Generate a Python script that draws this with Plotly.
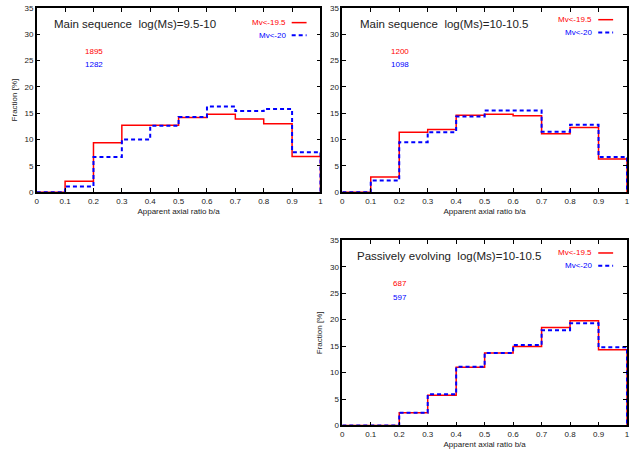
import plotly.graph_objects as go

W, H = 631, 455

# Bin edges for the apparent axial ratio b/a
edges = [0.0, 0.1, 0.2, 0.3, 0.4, 0.5, 0.6, 0.7, 0.8, 0.9, 1.0]

# Fraction [%] per bin, Mv<-19.5 (red) and Mv<-20 (blue)
ms1_red = [0.0, 2.1, 9.4, 12.7, 12.7, 14.2, 14.8, 13.9, 13.0, 6.8]
ms1_blue = [0.0, 1.1, 6.7, 10.0, 12.6, 14.3, 16.3, 15.4, 15.8, 7.6]
ms2_red = [0.0, 2.9, 11.4, 11.9, 14.6, 14.8, 14.5, 11.1, 12.3, 6.3]
ms2_blue = [0.0, 2.2, 9.5, 11.4, 14.4, 15.5, 15.5, 11.5, 12.8, 6.7]
pe_red = [0.0, 0.0, 2.4, 5.7, 11.0, 13.7, 14.9, 18.5, 19.8, 14.3]
pe_blue = [0.0, 0.0, 2.4, 5.9, 11.1, 13.7, 15.2, 18.0, 19.3, 14.8]

titles = ["Main sequence  log(Ms)=9.5-10",
          "Main sequence  log(Ms)=10-10.5",
          "Passively evolving  log(Ms)=10-10.5"]
counts_red = ["1895", "1200", "687"]
counts_blue = ["1282", "1098", "597"]
legend_labels = ["Mv<-19.5", "Mv<-20"]

x_tickvals = [0, 0.1, 0.2, 0.3, 0.4, 0.5, 0.6, 0.7, 0.8, 0.9, 1.0]
x_ticktext = ["0", "0.1", "0.2", "0.3", "0.4", "0.5", "0.6", "0.7", "0.8", "0.9", "1"]
y_tickvals = [0, 5, 10, 15, 20, 25, 30, 35]

RED = "#ff0000"
BLUE = "#0000ff"
DASH = "4px,3px"
FONT = "Liberation Sans, Arial, sans-serif"
TXT = "#222"

# panel boxes in pixels: left, right, top, bottom
panels = [
    (35, 321, 4, 192),
    (343, 630, 4, 192),
    (343, 630, 241, 430),
]
series = [(ms1_red, ms1_blue), (ms2_red, ms2_blue), (pe_red, pe_blue)]
show_ytitle = [True, False, True]
title_dx = [15, 16, 13]
legend_rows = [(15, 28), (12, 25), (13, 26)]

fig = go.Figure()
layout = dict(
    width=W, height=H,
    margin=dict(l=0, r=0, t=0, b=0),
    paper_bgcolor="white", plot_bgcolor="white",
    showlegend=False,
    font=dict(family=FONT, size=8, color=TXT),
)
annotations = []
shapes = []

for i, ((l, r, t, b), (red, blue)) in enumerate(zip(panels, series)):
    n = "" if i == 0 else str(i + 1)
    xa, ya = "x" + n, "y" + n
    for vals, color, dash, width in ((red, RED, "solid", 1.5), (blue, BLUE, DASH, 2)):
        fig.add_trace(go.Scatter(
            x=edges, y=vals + [0.0], mode="lines",
            line=dict(color=color, width=width, dash=dash, shape="hv"),
            xaxis=xa, yaxis=ya, hoverinfo="skip",
        ))
    axis_common = dict(
        showline=True, linecolor="black", linewidth=1.5, mirror="ticks",
        ticks="inside", ticklen=4, tickcolor="black", tickwidth=1,
        showgrid=False, zeroline=False,
        tickfont=dict(family=FONT, size=8, color=TXT),
    )
    layout["xaxis" + n] = dict(
        axis_common, domain=[l / W, r / W], range=[0, 1],
        tickvals=x_tickvals, ticktext=x_ticktext, anchor=ya,
        title=dict(text="Apparent axial ratio b/a", font=dict(family=FONT, size=8, color=TXT), standoff=4),
    )
    layout["yaxis" + n] = dict(
        axis_common, domain=[1 - b / H, 1 - t / H], range=[0, 35],
        tickvals=y_tickvals, anchor=xa,
        title=dict(text="Fraction [%]" if show_ytitle[i] else "",
                   font=dict(family=FONT, size=8, color=TXT), standoff=6),
    )

    # panel title
    annotations.append(dict(
        text=titles[i], xref=xa + " domain", yref=ya + " domain",
        x=title_dx[i] / (r - l), y=1 - 16 / (b - t), xanchor="left", yanchor="middle",
        showarrow=False, font=dict(family=FONT, size=11.5, color=TXT),
    ))
    # sample counts
    cx = 58 / (r - l)
    for txt, color, dy in ((counts_red[i], RED, 44), (counts_blue[i], BLUE, 58)):
        annotations.append(dict(
            text=txt, xref=xa + " domain", yref=ya + " domain",
            x=cx, y=1 - dy / (b - t), xanchor="center", yanchor="middle",
            showarrow=False, font=dict(family=FONT, size=8, color=color),
        ))
    # legend keys
    for k, (lab, color, dash, width) in enumerate(
            ((legend_labels[0], RED, "solid", 1.5), (legend_labels[1], BLUE, DASH, 2))):
        yy = 1 - legend_rows[i][k] / (b - t)
        annotations.append(dict(
            text=lab, xref=xa + " domain", yref=ya + " domain",
            x=1 - 33 / (r - l), y=yy, xanchor="right", yanchor="middle",
            showarrow=False, font=dict(family=FONT, size=8, color=color),
        ))
        shapes.append(dict(
            type="line", xref=xa + " domain", yref=ya + " domain",
            x0=1 - 29 / (r - l), x1=1 - 14 / (r - l), y0=yy, y1=yy,
            line=dict(color=color, width=width, dash=dash),
        ))

layout["annotations"] = annotations
layout["shapes"] = shapes
fig.update_layout(**layout)
fig.write_html("out.html")
